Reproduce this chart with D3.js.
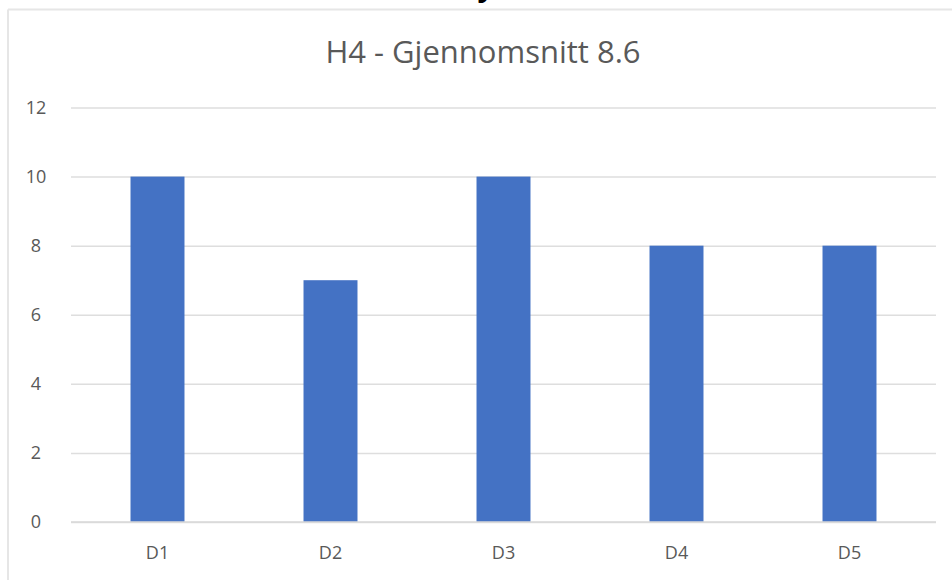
<!DOCTYPE html>
<html>
<head>
<meta charset="utf-8">
<script src="https://cdn.jsdelivr.net/npm/d3@7"></script>
<style>
  html, body { margin: 0; padding: 0; background: #ffffff; }
  svg { display: block; }
</style>
</head>
<body>
<svg id="chart" width="952" height="580"></svg>
<script>
// Scores per day for H4
const categories = ["D1", "D2", "D3", "D4", "D5"];
const values = [10, 7, 10, 8, 8];
const yTicks = [0, 2, 4, 6, 8, 10, 12];
const titleText = "H4 - Gjennomsnitt 8.6";

const svg = d3.select("#chart");
const W = 952, H = 580;
const plot = { left: 71, right: 936, top: 107.5, bottom: 522 };
const textColor = "#595959";
const fontFamily = "'Open Sans', 'Noto Sans', sans-serif";

// Heading above the chart frame (only its descender is on the page)
svg.append("text")
  .attr("x", 486).attr("y", -4)
  .attr("text-anchor", "middle")
  .attr("font-family", fontFamily)
  .attr("font-weight", "bold")
  .attr("font-size", 30)
  .attr("fill", "#000")
  .text("y");

// Chart frame
svg.append("line")
  .attr("x1", 8).attr("x2", W).attr("y1", 9.5).attr("y2", 9.5)
  .attr("stroke", "#e6e6e6").attr("stroke-width", 2);
svg.append("line")
  .attr("x1", 8).attr("x2", 8).attr("y1", 9.5).attr("y2", H)
  .attr("stroke", "#e6e6e6").attr("stroke-width", 2);

// Title
svg.append("text")
  .attr("x", 483).attr("y", 63)
  .attr("text-anchor", "middle")
  .attr("font-family", fontFamily)
  .attr("font-size", 31)
  .attr("fill", textColor)
  .text(titleText);

const x = d3.scaleBand()
  .domain(categories)
  .range([plot.left, plot.right])
  .paddingInner(0.688)
  .paddingOuter(0.344);

const y = d3.scaleLinear()
  .domain([0, 12])
  .range([plot.bottom, plot.top]);

// Horizontal gridlines with value labels
const yAxis = d3.axisLeft(y)
  .tickValues(yTicks)
  .tickSize(-(plot.right - plot.left));

const gy = svg.append("g")
  .attr("transform", `translate(${plot.left},0)`)
  .call(yAxis);
gy.select(".domain").remove();
gy.selectAll(".tick line")
  .attr("stroke", "#dedede")
  .attr("stroke-width", 1.5);
gy.selectAll(".tick text")
  .attr("font-family", fontFamily)
  .attr("font-size", 18)
  .attr("fill", textColor)
  .attr("text-anchor", "middle")
  .attr("x", -(plot.left - 36));

// Bars
svg.append("g")
  .selectAll("rect")
  .data(categories.map((c, i) => ({ c, v: values[i] })))
  .join("rect")
  .attr("x", d => x(d.c))
  .attr("width", x.bandwidth())
  .attr("y", d => y(d.v))
  .attr("height", d => y(0) - y(d.v))
  .attr("fill", "#4472C4");

// Baseline redrawn over the bars
svg.append("line")
  .attr("x1", plot.left).attr("x2", plot.right)
  .attr("y1", y(0)).attr("y2", y(0))
  .attr("stroke", "#d9d9d9").attr("stroke-width", 1.5);

// Category labels
const xAxis = d3.axisBottom(x).tickSize(0).tickPadding(24);
const gx = svg.append("g")
  .attr("transform", `translate(0,${plot.bottom})`)
  .call(xAxis);
gx.select(".domain").remove();
gx.selectAll(".tick text")
  .attr("font-family", fontFamily)
  .attr("font-size", 18)
  .attr("fill", textColor);
</script>
</body>
</html>
